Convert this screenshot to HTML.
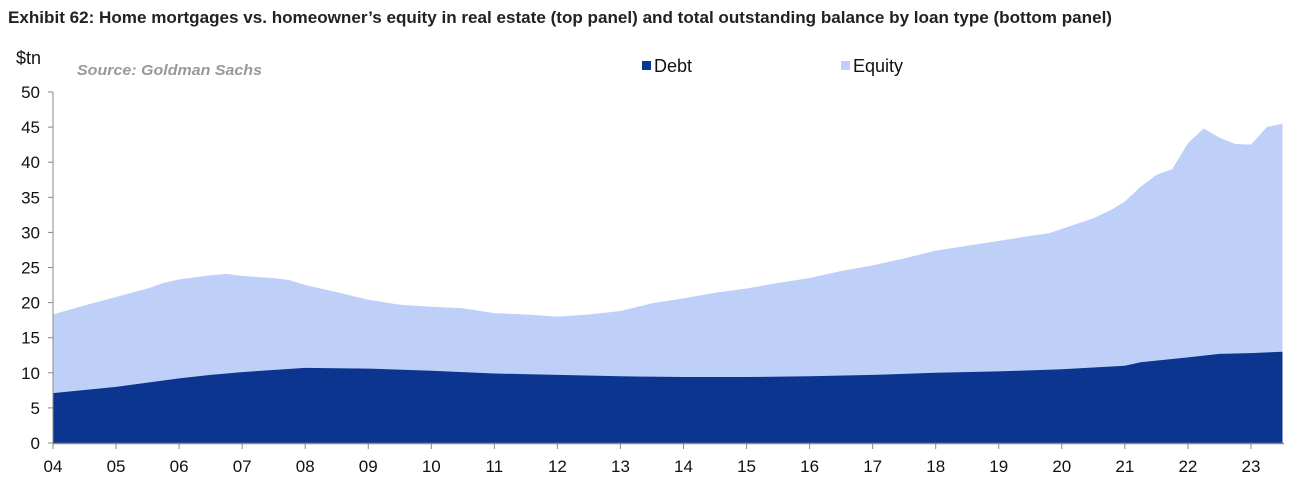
<!DOCTYPE html>
<html><head><meta charset="utf-8"><style>
html,body{margin:0;padding:0;background:#fff;}
svg{display:block;font-family:"Liberation Sans",Arial,sans-serif;}
</style></head><body>
<svg id="chart" width="1292" height="493" viewBox="0 0 1292 493">
<text x="8" y="23" font-size="17" font-weight="bold" fill="#222" textLength="1104" lengthAdjust="spacingAndGlyphs">Exhibit 62: Home mortgages vs. homeowner’s equity in real estate (top panel) and total outstanding balance by loan type (bottom panel)</text>
<text x="16" y="64" font-size="18" fill="#111">$tn</text>
<text x="77" y="75" font-size="15" font-style="italic" font-weight="bold" fill="#999" textLength="185" lengthAdjust="spacingAndGlyphs">Source: Goldman Sachs</text>
<g>
<rect x="642" y="61" width="9" height="9" fill="#0c3590"/>
<text x="654" y="72" font-size="18" fill="#111">Debt</text>
<rect x="841" y="61" width="9" height="9" fill="#bfd0f8"/>
<text x="853" y="72" font-size="18" fill="#111">Equity</text>
</g>
<g id="plot"></g>
</svg>
<script>
const totalYears=[2004,2004.5,2005,2005.5,2005.75,2006,2006.5,2006.75,2007,2007.5,2007.75,2008,2008.5,2009,2009.5,2010,2010.5,2011,2011.5,2012,2012.5,2013,2013.5,2014,2014.5,2015,2015.5,2016,2016.5,2017,2017.5,2018,2018.5,2019,2019.5,2019.8,2020,2020.5,2020.8,2021,2021.25,2021.5,2021.75,2022,2022.25,2022.5,2022.75,2023,2023.25,2023.5];
const totalValues=[18.3,19.6,20.8,22.0,22.8,23.3,23.9,24.1,23.8,23.5,23.2,22.5,21.5,20.4,19.7,19.4,19.2,18.5,18.3,18.0,18.3,18.8,19.9,20.6,21.4,22.0,22.8,23.5,24.5,25.3,26.3,27.4,28.1,28.8,29.5,29.9,30.5,32.0,33.3,34.4,36.5,38.2,39.0,42.7,44.8,43.5,42.6,42.5,45.0,45.5];
const debtYears=[2004,2005,2006,2006.5,2007,2008,2009,2010,2011,2012,2013,2014,2015,2016,2017,2018,2019,2020,2021,2021.25,2022,2022.5,2023,2023.5];
const debtValues=[7.1,8.0,9.2,9.7,10.1,10.7,10.6,10.3,9.9,9.7,9.5,9.4,9.4,9.5,9.7,10.0,10.2,10.5,11.0,11.5,12.2,12.7,12.8,13.0];
const yTicks=[0,5,10,15,20,25,30,35,40,45,50];
const xTickLabels=["04","05","06","07","08","09","10","11","12","13","14","15","16","17","18","19","20","21","22","23"];

const NS="http://www.w3.org/2000/svg";
const X=t=>53+63.05*(t-2004);
const Y=v=>443-7.02*v;
const g=document.getElementById('plot');
function mk(tag,attrs){const e=document.createElementNS(NS,tag);for(const k in attrs)e.setAttribute(k,attrs[k]);g.appendChild(e);return e;}
function area(xs,vs){let d=`M${X(xs[0])},${Y(0)}`;xs.forEach((t,i)=>d+=` L${X(t)},${Y(vs[i])}`);d+=` L${X(xs[xs.length-1])},${Y(0)} Z`;return d;}

const eq=mk('path',{d:area(totalYears,totalValues),fill:'#bfd0f8'});


const db=mk('path',{d:area(debtYears,debtValues),fill:'#0c3590'});



const ya=mk('line',{x1:53,y1:Y(0),x2:53,y2:Y(50),stroke:'#888','stroke-width':1});


yTicks.forEach(v=>{
  const tk=mk('line',{x1:48,y1:Y(v),x2:53,y2:Y(v),stroke:'#888'});
  
  
  const tx=mk('text',{x:40,y:Y(v)+6,'text-anchor':'end','font-size':17,fill:'#111'});
  tx.textContent=v;
  
  
});
const xa=mk('line',{x1:53,y1:443.5,x2:1284,y2:443.5,stroke:'#888','stroke-width':1.5});


xTickLabels.forEach((lab,i)=>{
  const x=X(2004+i);
  const tk=mk('line',{x1:x,y1:443,x2:x,y2:449,stroke:'#888'});
  
  
  const tx=mk('text',{x:x,y:472,'text-anchor':'middle','font-size':17,fill:'#111'});
  tx.textContent=lab;
  
  
});
</script>
</body></html>
